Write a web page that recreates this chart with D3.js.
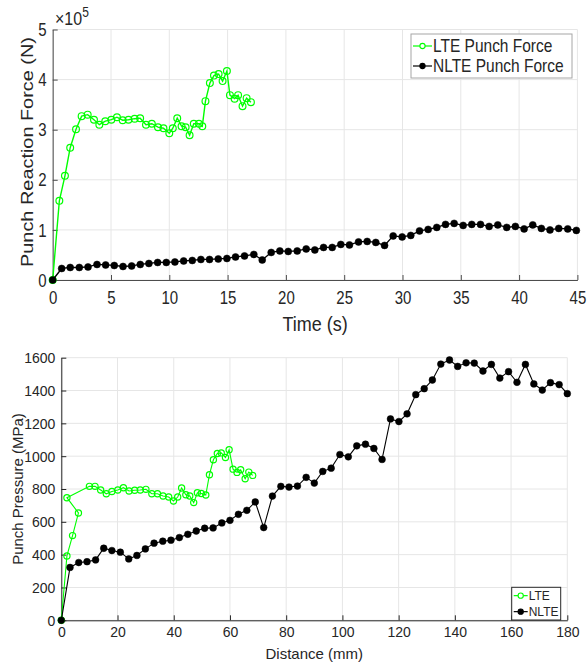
<!DOCTYPE html>
<html>
<head>
<meta charset="utf-8">
<script src="https://cdnjs.cloudflare.com/ajax/libs/d3/7.8.5/d3.min.js"></script>
<style>
body { margin: 0; background: #fff; }
svg { display: block; }
text { font-family: "Liberation Sans", Arial, Helvetica, sans-serif; fill: #262626; }
</style>
</head>
<body>
<svg id="chart" width="587" height="664"></svg>
<script>
// ---- top panel data: punch force vs time (force in units of 10^5 N)
var lteTime = [0, 0.57, 1.05, 1.5, 2.0, 2.48, 3.0, 3.54, 4.0, 4.51, 5.03, 5.51, 6.0, 6.5, 7.03, 7.5, 8.0, 8.5, 9.03, 9.5,
  10.0, 10.3, 10.68, 11.05, 11.4, 11.74, 12.1, 12.54, 12.83, 13.1, 13.48, 13.83, 14.23, 14.57, 14.94, 15.2, 15.6, 15.9, 16.28, 16.63, 17.0];
var lteForce = [0, 1.58, 2.08, 2.64, 3.01, 3.27, 3.30, 3.20, 3.10, 3.17, 3.20, 3.25, 3.19, 3.20, 3.22, 3.23, 3.10, 3.12, 3.05, 3.03,
  2.93, 3.03, 3.23, 3.07, 3.05, 2.89, 3.12, 3.12, 3.07, 3.57, 3.93, 4.08, 4.11, 3.97, 4.17, 3.69, 3.62, 3.69, 3.47, 3.63, 3.55];
var nlteTime = [0, 0.77, 1.5, 2.28, 3.03, 3.8, 4.54, 5.28, 6.03, 6.77, 7.51, 8.25, 9.0, 9.74, 10.48, 11.23, 11.97, 12.71, 13.45, 14.2,
  14.94, 15.68, 16.45, 17.25, 17.97, 18.74, 19.48, 20.2, 20.97, 21.74, 22.48, 23.23, 23.97, 24.71, 25.45, 26.23, 26.97, 27.71, 28.46, 29.2,
  29.97, 30.71, 31.46, 32.2, 32.94, 33.69, 34.43, 35.2, 35.94, 36.69, 37.43, 38.17, 38.94, 39.68, 40.43, 41.17, 41.91, 42.65, 43.4, 44.17, 44.91];
var nlteForce = [0, 0.23, 0.25, 0.25, 0.26, 0.31, 0.30, 0.29, 0.27, 0.28, 0.31, 0.33, 0.35, 0.35, 0.36, 0.38, 0.39, 0.41, 0.41, 0.42,
  0.43, 0.46, 0.48, 0.51, 0.40, 0.55, 0.58, 0.57, 0.58, 0.62, 0.60, 0.65, 0.65, 0.71, 0.70, 0.76, 0.77, 0.75, 0.69, 0.88,
  0.86, 0.89, 0.98, 1.01, 1.05, 1.11, 1.13, 1.09, 1.11, 1.11, 1.07, 1.10, 1.05, 1.07, 1.02, 1.10, 1.03, 1.00, 1.03, 1.02, 0.99];
var timeTicks = [0, 5, 10, 15, 20, 25, 30, 35, 40, 45];
var forceTicks = [0, 1, 2, 3, 4, 5];

// ---- bottom panel data: punch pressure (MPa) vs distance (mm)
var lteDist = [0, 2.0, 4.0, 6.1, 2.0, 10.0, 12.0, 14.0, 16.0, 18.0, 20.1, 22.1, 24.1, 26.1, 28.1, 30.1, 32.2, 34.2, 36.2, 38.2,
  39.9, 41.4, 42.8, 44.3, 45.7, 47.1, 48.4, 49.8, 51.4, 52.7, 54.1, 55.5, 56.9, 58.4, 59.7, 61.1, 62.5, 63.8, 65.4, 66.7, 68.1];
var ltePress = [0, 392, 516, 654, 747, 816, 816, 794, 771, 785, 794, 808, 788, 792, 794, 798, 771, 771, 757, 751,
  727, 751, 806, 765, 757, 717, 777, 773, 763, 887, 978, 1016, 1020, 992, 1039, 921, 901, 917, 862, 903, 883];
var nlteDist = [0, 3.1, 6.2, 9.15, 12.2, 15.1, 18.0, 21.0, 24.0, 26.9, 29.9, 33.0, 36.1, 39.0, 42.0, 45.0, 48.0, 51.0, 54.0, 57.1,
  60.0, 63.0, 66.0, 69.0, 72.0, 75.1, 78.1, 81.0, 84.0, 87.1, 90.0, 93.0, 96.0, 99.1, 102.1, 105.1, 108.2, 111.2, 114.1, 117.1,
  120.1, 123.0, 126.1, 129.1, 132.0, 135.0, 138.1, 141.0, 144.0, 146.9, 150.0, 153.0, 156.0, 159.1, 162.1, 165.1, 168.1, 171.1, 174.0, 177.1, 180.0];
var nltePress = [0, 322, 352, 357, 368, 439, 425, 415, 374, 395, 435, 470, 482, 488, 504, 524, 544, 561, 563, 593,
  609, 646, 670, 721, 565, 757, 816, 812, 818, 871, 836, 907, 927, 1010, 996, 1063, 1073, 1047, 980, 1227,
  1211, 1258, 1375, 1411, 1464, 1561, 1586, 1547, 1569, 1567, 1519, 1559, 1476, 1515, 1450, 1559, 1440, 1403, 1448, 1436, 1381];
var distTicks = [0, 20, 40, 60, 80, 100, 120, 140, 160, 180];
var pressTicks = [0, 200, 400, 600, 800, 1000, 1200, 1400, 1600];

var svg = d3.select("#chart");
var green = "#00ff00";
var SY = 1.17;   // text in the top picture is stretched vertically

function zip(a, b) { return a.map(function (d, i) { return [d, b[i]]; }); }

function grid(x, y, xt, yt) {
  var g = svg.append("g").attr("stroke", "#e6e6e6").attr("stroke-width", 1);
  xt.forEach(function (t) {
    g.append("line").attr("x1", x(t)).attr("x2", x(t)).attr("y1", y.range()[0]).attr("y2", y.range()[1]);
  });
  yt.forEach(function (t) {
    g.append("line").attr("x1", x.range()[0]).attr("x2", x.range()[1]).attr("y1", y(t)).attr("y2", y(t));
  });
}

function axes(x, y, xt, yt, fs, stretch, xPad, axisCol) {
  var gx = svg.append("g").attr("transform", "translate(0," + y.range()[0] + ")")
    .call(d3.axisBottom(x).tickValues(xt).tickSizeInner(-5).tickSizeOuter(0).tickFormat(d3.format("d")));
  var gy = svg.append("g").attr("transform", "translate(" + x.range()[0] + ",0)")
    .call(d3.axisLeft(y).tickValues(yt).tickSizeInner(-5).tickSizeOuter(0).tickFormat(d3.format("d")));
  [gx, gy].forEach(function (g) {
    g.attr("font-family", null).attr("font-size", null);
    g.select(".domain").attr("stroke", axisCol);
    g.selectAll(".tick line").attr("stroke", axisCol);
    g.selectAll(".tick text").attr("fill", "#262626").style("font-size", fs + "px");
  });
  gx.selectAll(".tick text").attr("y", 0).attr("dy", "0.35em")
    .attr("transform", "translate(0," + xPad + ") scale(1," + stretch + ")");
  gy.selectAll(".tick text").attr("x", 0).attr("dy", "0.35em")
    .attr("transform", "translate(-6,0) scale(1," + stretch + ")");
}

function series(x, y, xs, ys, col, lw, r, filled) {
  var pts = zip(xs, ys);
  svg.append("path").datum(pts)
    .attr("fill", "none").attr("stroke", col).attr("stroke-width", lw)
    .attr("d", d3.line().x(function (d) { return x(d[0]); }).y(function (d) { return y(d[1]); }));
  svg.append("g").selectAll("circle").data(pts).join("circle")
    .attr("cx", function (d) { return x(d[0]); })
    .attr("cy", function (d) { return y(d[1]); })
    .attr("r", r)
    .attr("fill", filled ? col : "none")
    .attr("stroke", col).attr("stroke-width", filled ? 0.5 : 1.2);
}

function legend(x0, y0, w, h, rows, fs, stretch, border, rowGap, lineLen) {
  svg.append("rect").attr("x", x0).attr("y", y0).attr("width", w).attr("height", h)
    .attr("fill", "#fff").attr("stroke", border).attr("stroke-width", 1);
  rows.forEach(function (r, i) {
    var cy = y0 + rowGap * (i + 0.5) + (h - rowGap * rows.length) / 2;
    svg.append("line").attr("x1", x0 + 2).attr("x2", x0 + 2 + lineLen).attr("y1", cy).attr("y2", cy)
      .attr("stroke", r.col).attr("stroke-width", 1.2);
    svg.append("circle").attr("cx", x0 + 2 + lineLen / 2).attr("cy", cy).attr("r", 2.6)
      .attr("fill", r.filled ? r.col : "#fff").attr("stroke", r.col).attr("stroke-width", 1.1);
    svg.append("text").attr("transform", "translate(" + (x0 + 3 + lineLen) + "," + cy + ") scale(1," + stretch + ")")
      .attr("dy", "0.35em").style("font-size", fs + "px").text(r.label);
  });
}

// ================= top panel =================
var xT = d3.scaleLinear().domain([0, 45]).range([52.7, 577.4]);
var yT = d3.scaleLinear().domain([0, 5]).range([280, 29.5]);
grid(xT, yT, timeTicks, forceTicks);
axes(xT, yT, timeTicks, forceTicks, 15, SY, 18, "#4d4d4d");
series(xT, yT, lteTime, lteForce, green, 1.4, 3.4, false);
series(xT, yT, nlteTime, nlteForce, "#000", 1.3, 3.5, true);

svg.append("text").attr("transform", "translate(" + xT(22.5) + ",324) scale(1," + SY + ")")
  .attr("text-anchor", "middle").attr("dy", "0.35em").style("font-size", "18px").text("Time (s)");
svg.append("text").attr("transform", "translate(27,152) scale(1," + SY + ") rotate(-90)")
  .attr("text-anchor", "middle").attr("dy", "0.35em").style("font-size", "17px").text("Punch Reaction Force (N)");
var expo = svg.append("text").attr("transform", "translate(55,25) scale(1," + SY + ")").style("font-size", "16px");
expo.append("tspan").text("\u00d710");
expo.append("tspan").attr("dy", "-7").style("font-size", "12px").text("5");

legend(411, 34, 161, 44, [
  { label: "LTE Punch Force", col: green, filled: false },
  { label: "NLTE Punch Force", col: "#000", filled: true }
], 15.5, SY, "#a6a6a6", 20, 19);

// ================= bottom panel =================
var xB = d3.scaleLinear().domain([0, 180]).range([61.3, 567.3]);
var yB = d3.scaleLinear().domain([0, 1600]).range([620.3, 357.7]);
grid(xB, yB, distTicks, pressTicks);
axes(xB, yB, distTicks, pressTicks, 14, 1, 12, "#262626");
series(xB, yB, lteDist, ltePress, green, 1.1, 3.1, false);
series(xB, yB, nlteDist, nltePress, "#000", 1.1, 3.4, true);

svg.append("text").attr("x", xB(90)).attr("y", 654).attr("text-anchor", "middle").attr("dy", "0.35em")
  .style("font-size", "15px").text("Distance (mm)");
svg.append("text").attr("transform", "translate(18," + yB(800) + ") rotate(-90)")
  .attr("text-anchor", "middle").attr("dy", "0.35em").style("font-size", "15px").text("Punch Pressure (MPa)");

legend(511.7, 587.3, 49, 32.7, [
  { label: "LTE", col: green, filled: false },
  { label: "NLTE", col: "#000", filled: true }
], 12, 1, "#262626", 16, 14);
</script>
</body>
</html>
